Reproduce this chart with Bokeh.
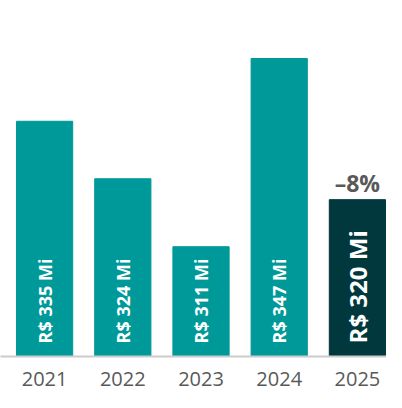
import math
from bokeh.plotting import figure
from bokeh.models import Range1d, FixedTicker, ColumnDataSource
from bokeh.embed import file_html
from bokeh.resources import INLINE
from bokeh.core.properties import value

# ---- data ----
years = ["2021", "2022", "2023", "2024", "2025"]
revenue = [335, 324, 311, 347, 320]          # R$ millions
bar_labels = ["R$ 335 Mi", "R$ 324 Mi", "R$ 311 Mi", "R$ 347 Mi", "R$ 320 Mi"]
change_label = "–8%"
y_floor = 290

# ---- style ----
TEAL = "#009999"
DARK = "#00383E"
PX_PER_UNIT = 5.21
idx = list(range(len(years)))
colors = [TEAL] * (len(years) - 1) + [DARK]

p = figure(width=386, height=392, output_backend="svg", toolbar_location=None,
           x_range=Range1d(-0.564, 4.372), y_range=Range1d(y_floor, 358.1),
           y_axis_location=None, min_border_left=0, min_border_right=0,
           min_border_top=0, min_border_bottom=36)
p.outline_line_color = None
p.grid.visible = False
p.background_fill_color = "white"
p.border_fill_color = "white"

src = ColumnDataSource(dict(x=idx, top=revenue, color=colors, label=bar_labels))
p.vbar(x="x", top="top", bottom=y_floor, width=0.719, color="color", source=src)

off = 13 / PX_PER_UNIT
# labels inside bars
p.text(x=idx[:-1], y=[y_floor + off] * (len(idx) - 1), text=bar_labels[:-1],
       angle=math.pi / 2, text_align="left", text_baseline="middle",
       text_color="white", text_font=value("Open Sans"), text_font_style="bold",
       text_font_size="18px")
p.text(x=[idx[-1]], y=[y_floor + off], text=[bar_labels[-1]],
       angle=math.pi / 2, text_align="left", text_baseline="middle",
       text_color="white", text_font=value("Open Sans"), text_font_style="bold",
       text_font_size="24px")
# change label above last bar
p.text(x=[idx[-1]], y=[revenue[-1] + 17 / PX_PER_UNIT], text=[change_label],
       text_align="center", text_baseline="alphabetic",
       text_color="#595959", text_font=value("Open Sans"), text_font_style="bold",
       text_font_size="23px")

ax = p.xaxis[0]
ax.ticker = FixedTicker(ticks=idx)
ax.major_label_overrides = {i: y for i, y in zip(idx, years)}
ax.major_tick_line_color = None
ax.minor_tick_line_color = None
ax.axis_line_color = "#cccccc"
ax.axis_line_width = 2
ax.major_label_text_font = "Open Sans"
ax.major_label_text_font_size = "20px"
ax.major_label_text_color = "#595959"
ax.major_label_standoff = 9

open("out.html", "w").write(file_html(p, INLINE))
